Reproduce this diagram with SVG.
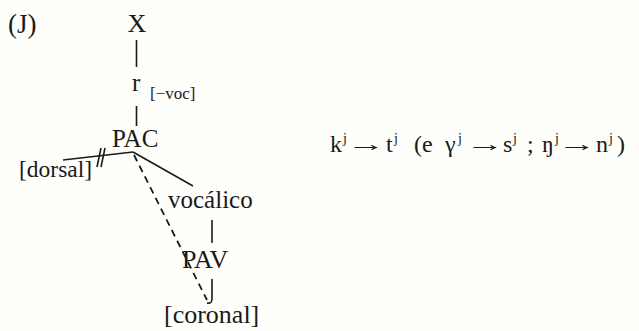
<svg xmlns="http://www.w3.org/2000/svg" width="639" height="331" viewBox="0 0 639 331">
<style>
text{font-family:"Liberation Serif","Times New Roman",serif;fill:#1a1a1a}
.n{font-size:25px}
.s{font-size:17px}
.f{font-size:24px}
.sup{font-size:14px}
.ar{font-size:22px}
line,path{stroke:#1a1a1a;stroke-width:1.6;fill:none}
.d{stroke-dasharray:7 5;stroke-width:1.8}
</style>
<rect width="639" height="331" fill="#fefefa"/>
<text class="n" x="8" y="33" style="font-size:27px">(J)</text>
<g id="connectors">
<line x1="136.5" y1="40" x2="136.5" y2="67"/>
<line x1="136.5" y1="106" x2="136.5" y2="126"/>
<line x1="63" y1="160" x2="133" y2="152"/>
<line x1="97" y1="167" x2="101" y2="148"/>
<line x1="101" y1="167" x2="105" y2="148"/>
<line x1="133" y1="152" x2="193" y2="186"/>
<line class="d" x1="134" y1="155" x2="207" y2="300"/>
<line x1="212" y1="220" x2="212" y2="243"/>
<path d="M212,279 L212,299 Q212,304 207,303"/>
</g>
<g id="node-X"><text class="n" x="137" y="32" text-anchor="middle" style="font-size:26px">X</text></g>
<g id="node-r"><text class="n" x="132" y="91">r</text><text class="s" x="150" y="99">[−voc]</text></g>
<g id="node-PAC"><text class="n" x="112" y="147">PAC</text></g>
<g id="node-dorsal"><text class="n" x="19" y="177" style="font-size:23.5px">[dorsal]</text></g>
<g id="node-vocalico"><text class="n" x="168" y="208">vocálico</text></g>
<g id="node-PAV"><text class="n" x="182" y="268" style="font-size:26px">PAV</text></g>
<g id="node-coronal"><text class="n" x="164" y="323" style="font-size:26px">[coronal]</text></g>
<g id="rule">
<text class="f" y="152"><tspan x="330">k</tspan><tspan class="sup" x="343" dy="-9">j</tspan><tspan x="386" dy="9">t</tspan><tspan class="sup" x="394" dy="-9">j</tspan><tspan x="414" dy="9">(e</tspan><tspan x="445">γ</tspan><tspan class="sup" x="458" dy="-9">j</tspan><tspan x="503" dy="9">s</tspan><tspan class="sup" x="513" dy="-9">j</tspan><tspan x="527" dy="9">;</tspan><tspan x="542">ŋ</tspan><tspan class="sup" x="555" dy="-9">j</tspan><tspan x="596" dy="9">n</tspan><tspan class="sup" x="609" dy="-9">j</tspan><tspan x="617" dy="9">)</tspan></text>
<text class="ar" transform="translate(347,151) scale(1.75,1)">→</text>
<text class="ar" transform="translate(466,151) scale(1.75,1)">→</text>
<text class="ar" transform="translate(558,151) scale(1.75,1)">→</text>
</g>
</svg>
